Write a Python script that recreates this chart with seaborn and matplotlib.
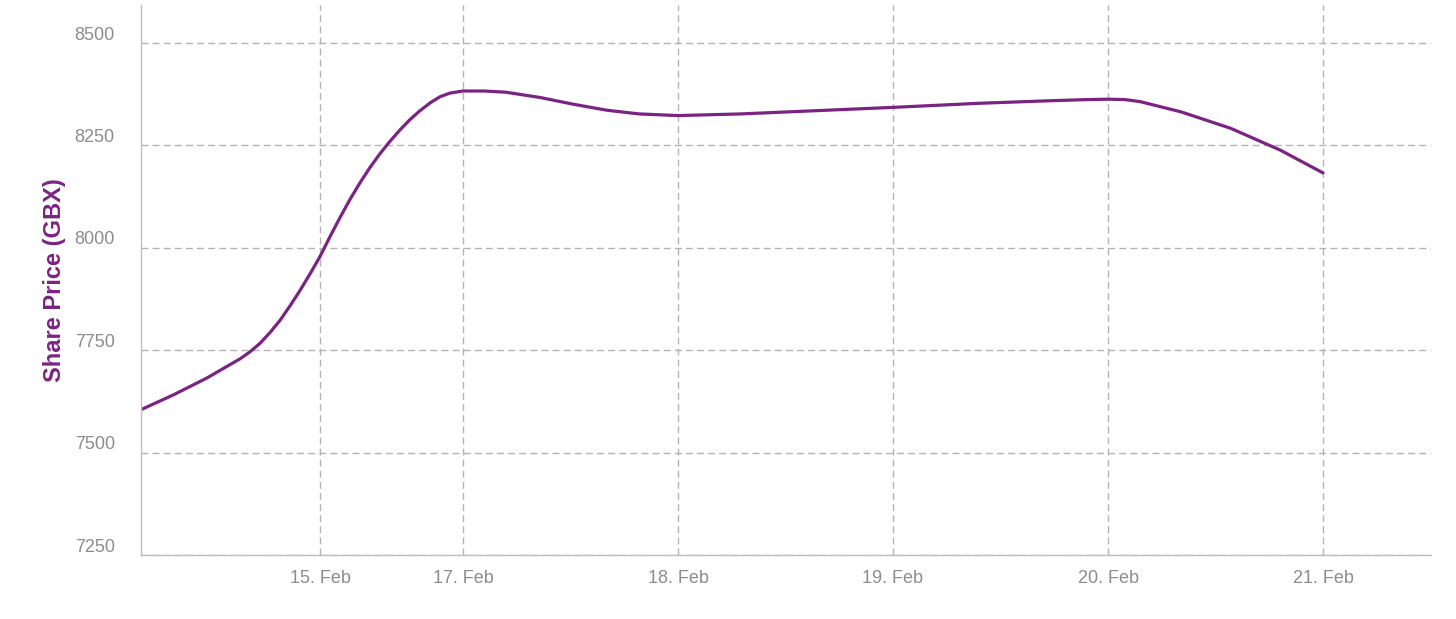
import numpy as np
import pandas as pd
import seaborn as sns
import matplotlib.pyplot as plt
import matplotlib.transforms as mtransforms

# positions along the (ordinal) time axis, 17 Feb = 0, one unit per session
positions = [-1.493, -1.347, -1.192, -1.037, -0.991, -0.944, -0.898, -0.851, -0.805, -0.758,
             -0.712, -0.665, -0.619, -0.572, -0.526, -0.479, -0.433, -0.386, -0.340, -0.293,
             -0.247, -0.200, -0.153, -0.107, -0.060, 0.0, 0.10, 0.20, 0.36, 0.51,
             0.67, 0.82, 1.0, 1.29, 1.60, 2.0, 2.40, 2.72, 2.90, 3.0,
             3.08, 3.15, 3.34, 3.57, 3.80, 4.0]
prices = [7606, 7641, 7682, 7729, 7746, 7767, 7793, 7823, 7858, 7896,
          7936, 7979, 8027, 8074, 8118, 8159, 8196, 8230, 8260, 8288,
          8313, 8335, 8354, 8369, 8378, 8383, 8383, 8380, 8367, 8351,
          8336, 8327, 8323, 8327, 8334, 8343, 8353, 8359, 8362, 8363,
          8362, 8357, 8332, 8292, 8239, 8183]

tick_positions = [-0.665, 0, 1, 2, 3, 4]
tick_labels = ["15. Feb", "17. Feb", "18. Feb", "19. Feb", "20. Feb", "21. Feb"]
y_ticks = [7250, 7500, 7750, 8000, 8250, 8500]

line_color = "#7b2382"
grey = "#8c8c8c"
axis_grey = "#bdbdbd"

sns.set_style("white")
plt.rcParams['font.family'] = ['Liberation Sans', 'DejaVu Sans']

df = pd.DataFrame({"pos": positions, "price": prices})

fig = plt.figure(figsize=(14.56, 6.19), dpi=100)
ax = fig.add_axes([140.5 / 1456, 64 / 619, 1290 / 1456, 550 / 619])

sns.lineplot(data=df, x="pos", y="price", color=line_color, linewidth=2.3, ax=ax)

ax.set_xlim(-1.5, 4.5)
ax.set_ylim(7250, 8593)

ax.set_xticks(tick_positions)
ax.set_xticklabels(tick_labels)
ax.set_yticks(y_ticks)
ax.set_yticklabels([str(v) for v in y_ticks])

ax.grid(True, color="#b3b3b3", linewidth=1.0, linestyle=(0, (5, 3)))
ax.set_axisbelow(True)

for side in ["top", "right"]:
    ax.spines[side].set_visible(False)
for side in ["left", "bottom"]:
    ax.spines[side].set_color(axis_grey)
    ax.spines[side].set_linewidth(1.0)

ax.tick_params(axis="x", which="major", length=11.5, width=1.0, color=axis_grey,
               labelsize=13, labelcolor=grey, pad=-1, direction="out")
ax.tick_params(axis="y", which="major", length=0, labelsize=13, labelcolor=grey, pad=18.5)

# lift the y labels above their gridlines
offset = mtransforms.ScaledTranslation(0, 0.1, fig.dpi_scale_trans)
for lbl in ax.get_yticklabels():
    lbl.set_transform(lbl.get_transform() + offset)

ax.set_xlabel("")
ax.set_ylabel("Share Price (GBX)", color=line_color, fontsize=17, fontweight="bold")
ax.yaxis.set_label_coords(-0.058, 0.5)

plt.savefig("out.png", dpi=100)
